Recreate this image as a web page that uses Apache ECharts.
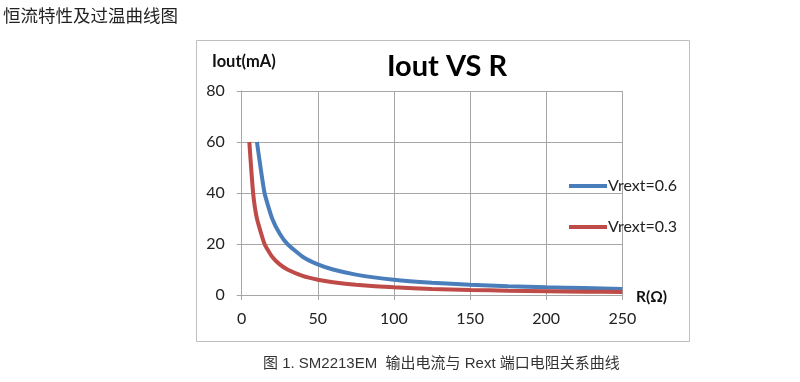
<!DOCTYPE html>
<html><head><meta charset="utf-8">
<script src="https://cdn.jsdelivr.net/npm/echarts@6/dist/echarts.min.js"></script>
<style>html,body{margin:0;padding:0;background:#fff}#c{width:800px;height:382px}</style>
</head><body><div id="c"></div>
<script>
const pageTitle = '恒流特性及过温曲线图';
const chartTitle = 'Iout VS R';
const caption = '图 1. SM2213EM  输出电流与 Rext 端口电阻关系曲线';
const yName = 'Iout(mA)';
const xName = 'R(Ω)';
const seriesNames = ['Vrext=0.6', 'Vrext=0.3'];
// R (ohm) values
const rBlue = [10, 15, 20, 25, 30, 40, 50, 60, 75, 100, 125, 150, 175, 200, 225, 250];
const iBlue = [60, 40, 30, 24, 20, 15, 12, 10, 8, 6, 4.8, 4, 3.4, 3, 2.7, 2.4];
const rRed = [5, 7.5, 10, 15, 20, 25, 30, 40, 50, 60, 75, 100, 125, 150, 175, 200, 225, 250];
const iRed = [60, 40, 30, 20, 15, 12, 10, 7.5, 6, 5, 4, 3, 2.4, 2, 1.7, 1.5, 1.3, 1.2];
const xTicks = [0, 50, 100, 150, 200, 250];
const yTicks = [0, 20, 40, 60, 80];

const blue = '#4a7ebb', red = '#be4b48', grid = '#a6a6a6';
const font = 'Lato, "Open Sans", sans-serif';
const cjk = '"Liberation Sans", "Noto Sans CJK SC", sans-serif';
const chart = echarts.init(document.getElementById('c'));
const zip = (a, b) => a.map((v, i) => [v, b[i]]);
chart.setOption({
  animation: false,
  backgroundColor: '#fff',
  grid: {left: 241.7, right: 177.7, top: 91, bottom: 87},
  xAxis: {type: 'value', min: xTicks[0], max: xTicks[xTicks.length-1], interval: 50,
    axisLine: {show: true, lineStyle: {color: grid, width: 1}},
    axisTick: {show: true, length: 5, lineStyle: {color: grid}},
    splitLine: {show: true, lineStyle: {color: grid, width: 1}},
    axisLabel: {fontSize: 16, color: '#222', margin: 16, fontFamily: font}},
  yAxis: {type: 'value', min: yTicks[0], max: yTicks[yTicks.length-1], interval: 20,
    axisLine: {show: true, lineStyle: {color: grid, width: 1}},
    axisTick: {show: true, length: 5, lineStyle: {color: grid}},
    splitLine: {show: true, lineStyle: {color: grid, width: 1}},
    axisLabel: {fontSize: 16, color: '#222', margin: 17, fontFamily: font}},
  legend: [
    {data: [seriesNames[0]], left: 564, top: 173, icon: 'rect', itemWidth: 38, itemHeight: 4, itemGap: 0,
     textStyle: {fontSize: 16, color: '#222', fontFamily: font, padding: [0, 0, 0, -4]}},
    {data: [seriesNames[1]], left: 564, top: 214, icon: 'rect', itemWidth: 38, itemHeight: 4, itemGap: 0,
     textStyle: {fontSize: 16, color: '#222', fontFamily: font, padding: [0, 0, 0, -4]}}
  ],
  series: [
    {name: seriesNames[0], type: 'line', data: zip(rBlue, iBlue), showSymbol: false, smooth: 0.15,
     lineStyle: {color: blue, width: 4}, itemStyle: {color: blue}},
    {name: seriesNames[1], type: 'line', data: zip(rRed, iRed), showSymbol: false, smooth: 0.15,
     lineStyle: {color: red, width: 4}, itemStyle: {color: red}}
  ],
  graphic: [
    {type: 'rect', shape: {x: 196.5, y: 40.5, width: 493, height: 301}, style: {fill: 'none', stroke: '#bfbfbf', lineWidth: 1}, z: -1},
    {type: 'text', left: 3, top: 7, style: {text: pageTitle, fontSize: 17.5, fill: '#222', fontFamily: '"Noto Sans CJK SC", sans-serif'}},
    {type: 'text', x: 447, y: 67, style: {text: chartTitle, fontSize: 29, fontWeight: 'bold', fill: '#000', align: 'center', verticalAlign: 'middle', fontFamily: font}},
    {type: 'text', x: 212, y: 62, style: {text: yName, fontSize: 16.5, fontWeight: 'bold', fill: '#111', verticalAlign: 'middle', fontFamily: font}},
    {type: 'text', x: 636, y: 297, style: {text: xName, fontSize: 15.5, fontWeight: 'bold', fill: '#111', verticalAlign: 'middle', fontFamily: font}},
    {type: 'text', x: 263, y: 364, style: {text: caption, fontSize: 15, fill: '#333', verticalAlign: 'middle', fontFamily: cjk}}
  ]
});
</script></body></html>
